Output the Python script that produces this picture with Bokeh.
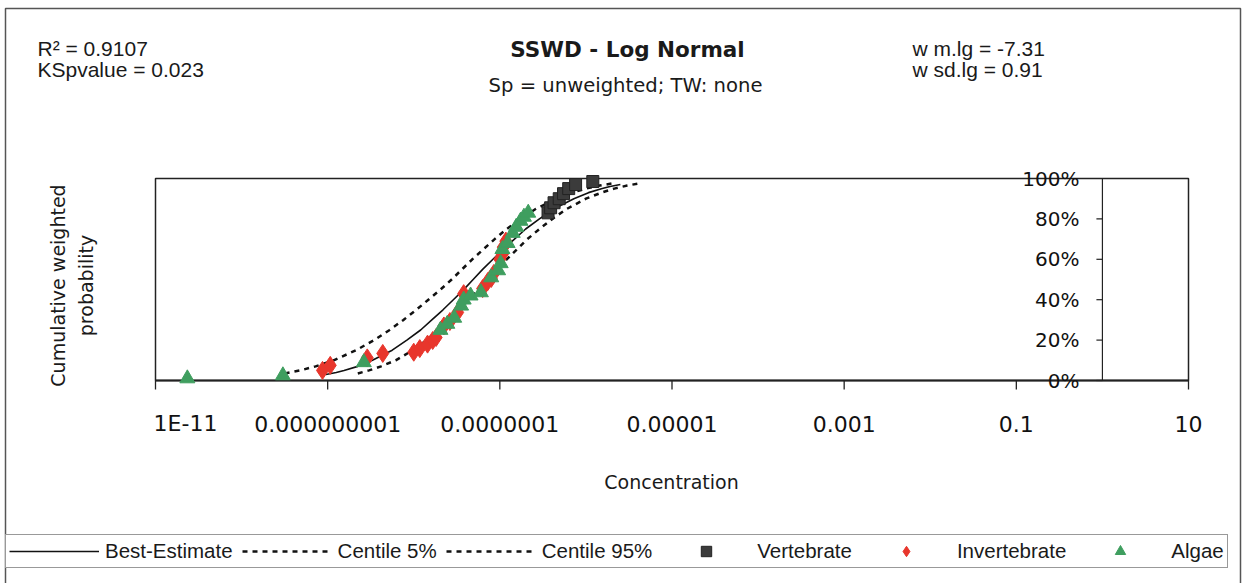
from math import pi
from bokeh.plotting import figure
from bokeh.models import (Label, LabelSet, ColumnDataSource, Legend, LegendItem, Range1d)
from bokeh.embed import file_html
from bokeh.resources import INLINE
from bokeh.core.properties import value

# ---------------- data (log10 concentration, cumulative probability) ----------------
best_logc = [-9.02, -8.90, -8.81, -8.65, -8.48, -8.25, -8.08, -7.92, -7.79, -7.66, -7.54, -7.42, -7.31,
             -7.20, -7.08, -6.96, -6.83, -6.70, -6.54, -6.37, -6.14, -5.97, -5.81, -5.72, -5.60]
best_p = [0.03, 0.04, 0.05, 0.07, 0.10, 0.15, 0.20, 0.25, 0.30, 0.35, 0.40, 0.45, 0.50,
          0.55, 0.60, 0.65, 0.70, 0.75, 0.80, 0.85, 0.90, 0.93, 0.95, 0.96, 0.97]

c5_logc = [-9.50, -9.32, -9.14, -8.93, -8.67, -8.46, -8.28, -8.12, -7.97, -7.83, -7.69, -7.56,
           -7.44, -7.32, -7.19, -7.06, -6.92, -6.76, -6.58, -6.34, -6.16, -6.00, -5.84, -5.70]
c5_p = [0.035, 0.05, 0.07, 0.10, 0.15, 0.20, 0.25, 0.30, 0.35, 0.40, 0.45, 0.50,
        0.55, 0.60, 0.65, 0.70, 0.75, 0.80, 0.85, 0.90, 0.93, 0.95, 0.965, 0.975]

c95_logc = [-8.65, -8.52, -8.38, -8.21, -8.01, -7.85, -7.71, -7.59, -7.47, -7.36, -7.25, -7.15,
            -7.04, -6.92, -6.80, -6.68, -6.54, -6.39, -6.22, -6.00, -5.82, -5.67, -5.52, -5.39]
c95_p = [0.035, 0.05, 0.07, 0.10, 0.15, 0.20, 0.25, 0.30, 0.35, 0.40, 0.45, 0.50,
         0.55, 0.60, 0.65, 0.70, 0.75, 0.80, 0.85, 0.90, 0.93, 0.95, 0.965, 0.975]

vert_logc = [-6.44, -6.41, -6.37, -6.31, -6.26, -6.20, -6.12, -5.92]
vert_p = [0.83, 0.855, 0.88, 0.90, 0.925, 0.95, 0.97, 0.985]

invert_logc = [-9.06, -8.97, -8.54, -8.36, -8.00, -7.93, -7.84, -7.78, -7.74, -7.65, -7.58, -7.49,
               -7.42, -7.20, -7.14, -7.10, -7.07, -7.00, -6.97, -6.96, -6.93]
invert_p = [0.050, 0.075, 0.112, 0.134, 0.140, 0.158, 0.180, 0.198, 0.213, 0.270, 0.292, 0.337,
            0.430, 0.455, 0.490, 0.505, 0.530, 0.600, 0.625, 0.660, 0.690]

algae_logc = [-10.63, -9.52, -8.58, -7.69, -7.61, -7.53, -7.45, -7.42, -7.34, -7.22, -7.10, -7.02,
              -6.99, -6.97, -6.91, -6.85, -6.81, -6.76, -6.72, -6.67]
algae_p = [0.010, 0.025, 0.090, 0.250, 0.280, 0.310, 0.370, 0.400, 0.420, 0.436, 0.510, 0.545,
           0.580, 0.650, 0.680, 0.730, 0.760, 0.790, 0.810, 0.830]

xtick_values = [1e-11, 1e-9, 1e-7, 1e-5, 1e-3, 1e-1, 10]
xtick_labels = ["1E-11", "0.000000001", "0.0000001", "0.00001", "0.001", "0.1", "10"]
ytick_values = [0.0, 0.2, 0.4, 0.6, 0.8, 1.0]
ytick_labels = ["0%", "20%", "40%", "60%", "80%", "100%"]

stats_left = ["R\u00b2 = 0.9107", "KSpvalue = 0.023"]
stats_right = ["w m.lg = -7.31", "w sd.lg = 0.91"]
title_text = "SSWD - Log Normal"
subtitle_text = "Sp = unweighted; TW: none"
ylabel_lines = ["Cumulative weighted", "probability"]
xlabel_text = "Concentration"

# ---------------- layout geometry (pixels) ----------------
W, H = 1245, 583
PL, PR, PT, PB = 155, 1188, 178, 380          # plot-area box in pixels
K = (PR - PL) / 12.0                          # pixels per decade
XL = -11 - PL / K
XR = 1 + (W - PR) / K
YS = float(PB - PT)                           # pixels per unit probability
YT = 1 + PT / YS
YB = -(H - PB) / YS


def px2x(px):
    return 10 ** (XL + px / K)


def py2y(py):
    return YT - py / YS


def tolin(v):
    return [10 ** a for a in v]


p = figure(width=W, height=H, x_axis_type="log",
           x_range=Range1d(10 ** XL, 10 ** XR), y_range=Range1d(YB, YT),
           x_axis_location=None, y_axis_location=None,
           output_backend="svg", toolbar_location=None,
           min_border=0, min_border_left=0, min_border_right=0,
           min_border_top=0, min_border_bottom=0)
p.xgrid.visible = False
p.ygrid.visible = False
p.outline_line_color = None
p.background_fill_color = "white"
p.border_fill_color = "white"

INK = "#1a1a1a"

# outer chart border
p.quad(left=[px2x(5)], right=[px2x(1240)], top=[py2y(8)], bottom=[py2y(600)],
       fill_color=None, line_color="#555", line_width=1.5)

# plot-area box
p.quad(left=[1e-11], right=[10], top=[1], bottom=[0], fill_color=None,
       line_color="#222", line_width=1.5)
p.segment(x0=[1e-11], x1=[10], y0=[0], y1=[0], line_color="#222", line_width=2)

# x ticks + labels
p.segment(x0=xtick_values, x1=xtick_values, y0=[0] * len(xtick_values),
          y1=[-9 / YS] * len(xtick_values), line_color="#222", line_width=1.3)
xlab_x = [px2x(185)] + xtick_values[1:]
xsrc = ColumnDataSource(dict(x=xlab_x, y=[py2y(423)] * len(xlab_x), t=xtick_labels))
p.add_layout(LabelSet(x="x", y="y", text="t", source=xsrc, text_align="center",
                      text_baseline="middle", text_font=value("DejaVu Sans"),
                      text_font_size="22px", text_color="#111"))
p.add_layout(Label(x=px2x(671), y=py2y(481), text=xlabel_text, text_align="center",
                   text_baseline="middle", text_font="DejaVu Sans", text_font_size="19px",
                   text_color=INK))

# y axis at x = 1
p.segment(x0=[1], x1=[1], y0=[0], y1=[1], line_color="#222", line_width=1.2)
p.segment(x0=[10 ** (-6 / K)] * len(ytick_values), x1=[1] * len(ytick_values),
          y0=ytick_values, y1=ytick_values, line_color="#222", line_width=1.2)
ysrc = ColumnDataSource(dict(x=[1] * len(ytick_values), y=ytick_values, t=ytick_labels))
p.add_layout(LabelSet(x="x", y="y", text="t", source=ysrc, x_offset=-23,
                      text_align="right", text_baseline="middle",
                      text_font=value("DejaVu Sans"), text_font_size="20px", text_color="#111"))

# curves
r_best = p.line(tolin(best_logc), best_p, line_color="#111", line_width=1.6)
r_c5 = p.line(tolin(c5_logc), c5_p, line_color="#111", line_width=2.5, line_dash="5 5")
r_c95 = p.line(tolin(c95_logc), c95_p, line_color="#111", line_width=2.5, line_dash="5 5")

# points
r_v = p.scatter(tolin(vert_logc), vert_p, marker="square", size=12,
                fill_color="#3b3b3b", line_color="#222")
r_i = p.scatter(tolin(invert_logc), invert_p, marker="diamond", size=18,
                fill_color="#e8362c", line_color="#e8362c")
r_a = p.scatter(tolin(algae_logc), algae_p, marker="triangle", size=15,
                fill_color="#3f9e5f", line_color="#3f9e5f")


# header texts
def txt(cx, cy, s, font="Liberation Sans", size="21px", style="normal", align="left", angle=0):
    p.add_layout(Label(x=px2x(cx), y=py2y(cy), text=s, angle=angle,
                       text_align=align, text_baseline="middle", text_font=font,
                       text_font_size=size, text_font_style=style, text_color=INK))


txt(37, 48, stats_left[0])
txt(37, 69, stats_left[1])
txt(912, 48, stats_right[0])
txt(912, 69, stats_right[1])
txt(627, 49, title_text, font="DejaVu Sans", size="21.5px", style="bold", align="center")
txt(625, 85, subtitle_text, font="DejaVu Sans", size="19.6px", align="center")
txt(57, 285, ylabel_lines[0], font="DejaVu Sans", size="19px", align="center", angle=pi / 2)
txt(85, 285, ylabel_lines[1], font="DejaVu Sans", size="19px", align="center", angle=pi / 2)

legend = Legend(items=[LegendItem(label="Best-Estimate", renderers=[r_best]),
                       LegendItem(label="Centile 5%", renderers=[r_c5]),
                       LegendItem(label="Centile 95%", renderers=[r_c95]),
                       LegendItem(label="Vertebrate", renderers=[r_v]),
                       LegendItem(label="Invertebrate", renderers=[r_i]),
                       LegendItem(label="Algae", renderers=[r_a])],
                orientation="horizontal", location=(5, 15),
                glyph_width=90, glyph_height=26, label_height=20, label_standoff=6,
                spacing=9, padding=3,
                label_text_font="Liberation Sans", label_text_font_size="20.5px",
                label_text_color=INK, border_line_color="#333", border_line_width=1.5,
                background_fill_alpha=1.0, margin=0)
p.add_layout(legend, "center")

open("out.html", "w").write(file_html(p, INLINE))
